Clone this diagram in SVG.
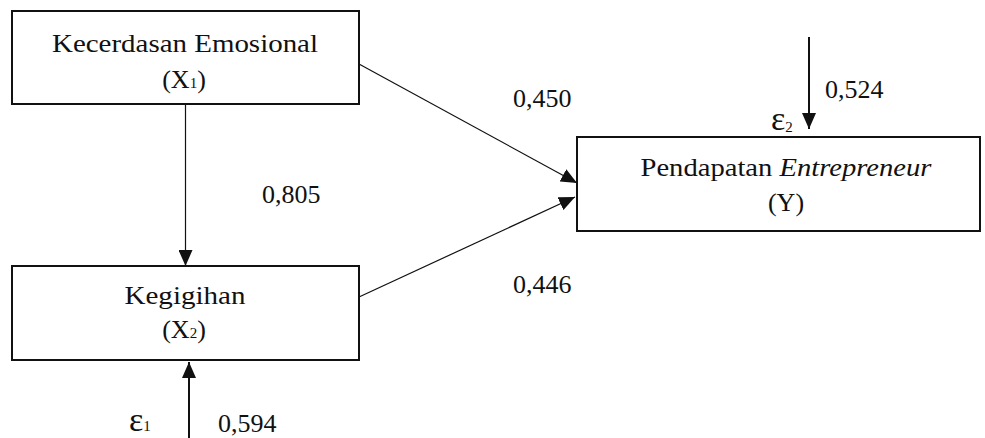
<svg xmlns="http://www.w3.org/2000/svg" width="985" height="438" viewBox="0 0 985 438">
<defs>
<style>
.box{fill:#fff;stroke:#111;stroke-width:2}
.t{font-family:"Liberation Serif","Times New Roman",serif;font-size:26px;fill:#111}
.c{text-anchor:middle}
.sub{font-size:15px}
.eps{font-size:34px}
.thin{stroke:#111;stroke-width:1.2;fill:none}
.thick{stroke:#111;stroke-width:2;fill:none}
</style>
<marker id="ah" viewBox="0 0 16 14" refX="16" refY="7" markerWidth="16" markerHeight="14" markerUnits="userSpaceOnUse" orient="auto">
<path d="M0,0 L16,7 L0,14 Z" fill="#111"/>
</marker>
</defs>
<rect width="985" height="438" fill="#fff"/>
<g id="connectors">
<line class="thin" x1="185.5" y1="104" x2="185.5" y2="266" marker-end="url(#ah)"/>
<line class="thin" x1="359" y1="64" x2="577" y2="183" marker-end="url(#ah)"/>
<line class="thin" x1="359" y1="297" x2="575" y2="197" marker-end="url(#ah)"/>
<line class="thick" x1="809" y1="37" x2="809" y2="129" marker-end="url(#ah)"/>
<line class="thick" x1="189" y1="438" x2="189" y2="362" marker-end="url(#ah)"/>
</g>
<g id="x1">
<rect class="box" x="12" y="11" width="347" height="93"/>
<text class="t c" x="185" y="52" textLength="266" lengthAdjust="spacingAndGlyphs">Kecerdasan Emosional</text>
<text class="t c" x="184" y="88">(X<tspan class="sub">1</tspan>)</text>
</g>
<g id="x2">
<rect class="box" x="12" y="266" width="347" height="94"/>
<text class="t c" x="185" y="304" textLength="121" lengthAdjust="spacingAndGlyphs">Kegigihan</text>
<text class="t c" x="184" y="338">(X<tspan class="sub">2</tspan>)</text>
</g>
<g id="y">
<rect class="box" x="577" y="137" width="403" height="94"/>
<text class="t c" x="786" y="176" textLength="291" lengthAdjust="spacingAndGlyphs">Pendapatan <tspan font-style="italic">Entrepreneur</tspan></text>
<text class="t c" x="786" y="211">(Y)</text>
</g>
<g id="labels">
<text class="t" x="262" y="203">0,805</text>
<text class="t" x="513" y="107">0,450</text>
<text class="t" x="513" y="293">0,446</text>
<text class="t" x="825" y="98">0,524</text>
<text class="t" x="218" y="432">0,594</text>
<text class="t" x="771" y="130"><tspan class="eps">ε</tspan><tspan class="sub" dy="2">2</tspan></text>
<text class="t" x="129" y="431"><tspan class="eps">ε</tspan><tspan class="sub">1</tspan></text>
</g>
</svg>
